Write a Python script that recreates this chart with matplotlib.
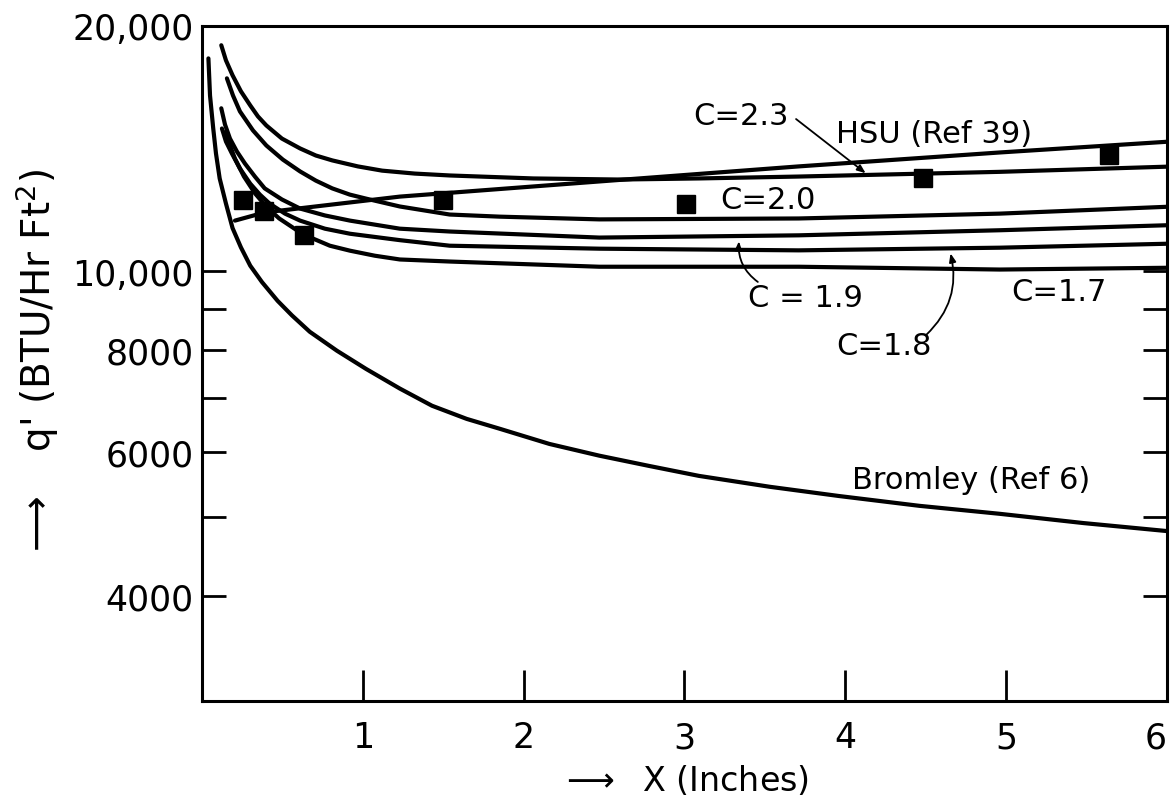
import numpy as np
import matplotlib
matplotlib.use("Agg")
from matplotlib import pyplot as plt

# curves: x in inches, q' in BTU/Hr Ft^2
bromley_x = [0.04, 0.05, 0.07, 0.087, 0.11, 0.149, 0.19, 0.242, 0.30, 0.373, 0.47, 0.559, 0.67, 0.839,
             1.02, 1.23, 1.43, 1.646, 1.85, 2.16, 2.47, 2.78, 3.09, 3.53, 3.96, 4.46, 4.96, 5.48, 6.0]
bromley_q = [18250, 16430, 14970, 13950, 13000, 12110, 11300, 10700, 10160, 9700, 9200, 8830, 8430, 7990,
             7590, 7180, 6840, 6590, 6410, 6140, 5940, 5770, 5610, 5440, 5300, 5155, 5040, 4910, 4800]

hsu_x = [0.205, 0.39, 1.23, 2.47, 3.71, 4.96, 6.0]
hsu_q = [11540, 11810, 12350, 12890, 13450, 13990, 14420]

c23_x = [0.12, 0.149, 0.19, 0.242, 0.30, 0.348, 0.40, 0.497, 0.61, 0.708, 0.81, 0.969, 1.12, 1.323, 1.54,
         2.06, 2.60, 3.09, 3.71, 4.96, 6.0]
c23_q = [18940, 18150, 17400, 16630, 15980, 15490, 15100, 14550, 14150, 13870, 13680, 13450, 13290, 13180, 13110,
         13000, 12960, 13000, 13070, 13245, 13440]

c20_x = [0.155, 0.193, 0.236, 0.317, 0.40, 0.503, 0.61, 0.708, 0.81, 0.919, 1.02, 1.23, 1.54, 1.85, 2.47,
         3.71, 4.96, 6.0]
c20_q = [17250, 16430, 15710, 14890, 14270, 13710, 13260, 12920, 12640, 12420, 12280, 12010, 11740, 11670, 11580,
         11610, 11770, 12000]

c19_x = [0.12, 0.143, 0.174, 0.217, 0.267, 0.329, 0.39, 0.497, 0.61, 0.764, 0.92, 1.23, 1.54, 2.47, 3.71, 4.96, 6.0]
c19_q = [15850, 15140, 14550, 14030, 13560, 13070, 12640, 12250, 11940, 11710, 11540, 11280, 11190, 11000, 11070,
         11230, 11390]

c18_x = [0.124, 0.149, 0.186, 0.236, 0.30, 0.36, 0.42, 0.516, 0.61, 0.764, 0.92, 1.23, 1.54, 2.47, 3.71, 4.96, 6.0]
c18_q = [14970, 14430, 13950, 13370, 12810, 12420, 12110, 11770, 11540, 11280, 11120, 10920, 10750, 10660, 10610,
         10690, 10810]

c17_x = [0.149, 0.174, 0.205, 0.261, 0.33, 0.404, 0.48, 0.584, 0.69, 0.795, 0.92, 1.075, 1.23, 1.54, 2.47, 3.71,
         4.96, 6.0]
c17_q = [14840, 14270, 13750, 13070, 12460, 11980, 11610, 11250, 10970, 10750, 10600, 10450, 10340, 10280, 10130,
         10130, 10050, 10100]

# measured points (squares)
data_x = [0.255, 0.385, 0.634, 1.50, 3.01, 4.48, 5.64]
data_q = [12220, 11870, 11090, 12220, 12110, 13000, 13910]

x_ticks = [1, 2, 3, 4, 5, 6]
y_major = [4000, 6000, 8000, 10000, 20000]
y_major_labels = ["4000", "6000", "8000", "10,000", "20,000"]
y_minor = [5000, 7000, 9000]

fig = plt.figure(figsize=(11.75, 8.03), dpi=100)
ax = fig.add_axes([0.1719, 0.1258, 0.8213, 0.8406])

lw = 3
for xs, qs in [(bromley_x, bromley_q), (hsu_x, hsu_q), (c23_x, c23_q), (c20_x, c20_q),
               (c19_x, c19_q), (c18_x, c18_q), (c17_x, c17_q)]:
    ax.plot(xs, qs, color="black", lw=lw, solid_capstyle="round", solid_joinstyle="round")

ax.plot(data_x, data_q, "s", color="black", markersize=13)

ax.set_yscale("log")
ax.set_xlim(0, 6)
ax.set_ylim(2970, 20000)

ax.set_xticks(x_ticks)
ax.set_xticklabels([str(t) for t in x_ticks])
ax.set_yticks(y_major)
ax.set_yticklabels(y_major_labels)
ax.set_yticks(y_minor, minor=True)
ax.yaxis.set_minor_formatter(matplotlib.ticker.NullFormatter())
ax.xaxis.set_minor_locator(matplotlib.ticker.NullLocator())

ax.tick_params(axis="x", direction="in", length=22, width=2, pad=14, labelsize=25)
ax.tick_params(axis="y", which="both", direction="in", length=17, width=2, pad=6,
               labelsize=25, right=True)
# last x label sits at the right edge as in the original
ax.get_xticklabels()[-1].set_horizontalalignment("right")
for s in ax.spines.values():
    s.set_linewidth(2.2)

ax.set_xlabel(r"$\longrightarrow$  X (Inches)", fontsize=24, labelpad=6)
ax.set_ylabel(r"$\longrightarrow$   q' (BTU/Hr Ft$^{2}$)", fontsize=28, labelpad=8)

fs = 22
ax.text(3.35, 15540, "C=2.3", fontsize=fs, ha="center", va="center")
ax.text(4.55, 14760, "HSU (Ref 39)", fontsize=fs, ha="center", va="center")
ax.text(3.52, 12250, "C=2.0", fontsize=fs, ha="center", va="center")
ax.text(3.75, 9280, "C = 1.9", fontsize=fs, ha="center", va="center")
ax.text(4.24, 8100, "C=1.8", fontsize=fs, ha="center", va="center")
ax.text(5.33, 9440, "C=1.7", fontsize=fs, ha="center", va="center")
ax.text(4.78, 5560, "Bromley (Ref 6)", fontsize=fs, ha="center", va="center")

arrow = dict(arrowstyle="-|>,head_length=0.5,head_width=0.2", color="black", lw=1.3)
ax.annotate("", xy=(4.14, 13130), xytext=(3.68, 15450),
            arrowprops=dict(arrow, connectionstyle="arc3,rad=0"))
ax.annotate("", xy=(3.34, 10970), xytext=(3.47, 9660),
            arrowprops=dict(arrow, connectionstyle="arc3,rad=-0.3"))
ax.annotate("", xy=(4.65, 10600), xytext=(4.49, 8310),
            arrowprops=dict(arrow, connectionstyle="arc3,rad=0.3"))

fig.savefig("out.png", dpi=100)
